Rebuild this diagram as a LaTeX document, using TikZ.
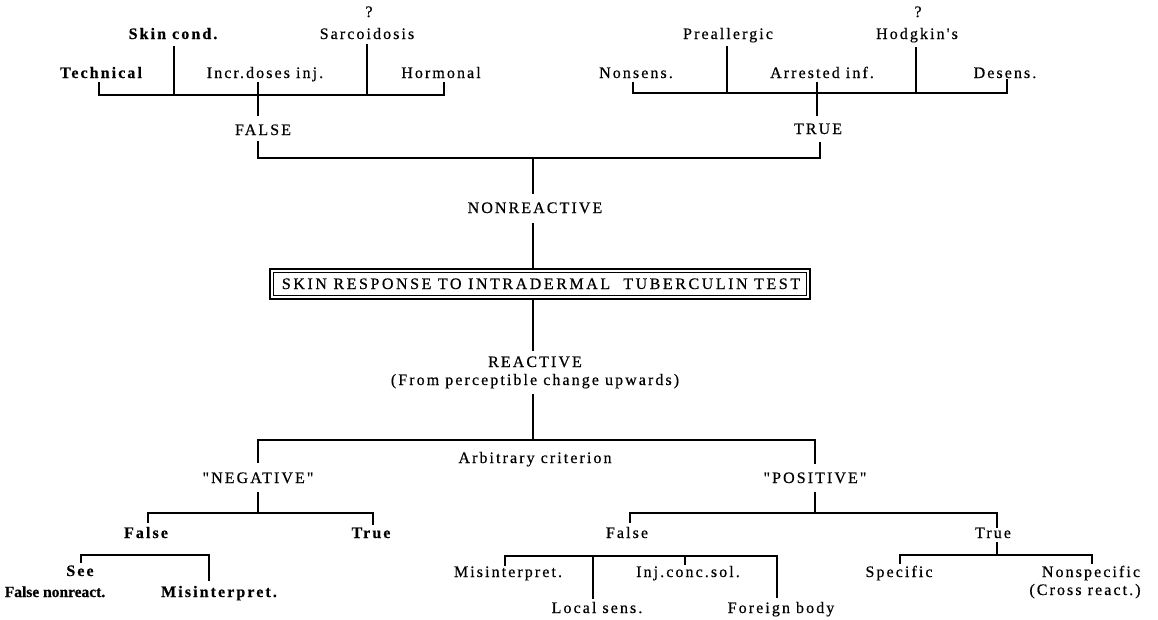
\documentclass[tikz,border=0pt]{standalone}
\usepackage{fontspec}
\newfontfamily\rf{Liberation Serif}[LetterSpace=13,FakeBold=0.5]
\begin{document}
\begin{tikzpicture}[x=1pt,y=-1pt,
  lbl/.style={anchor=base,inner sep=0pt,font=\rf\fontsize{16}{19}\selectfont},
  blbl/.style={lbl,font=\rf\fontsize{16}{19}\selectfont\bfseries},
  ln/.style={line width=1.3pt,line cap=rect}]
\fill[white] (0,0) rectangle (1158,619);
\useasboundingbox (0,0) rectangle (1158,619);
% ---------- top left (FALSE) ----------
\node[lbl]  (q1)   at (369,17) {?};
\node[blbl] (skin) at (173,39) {Skin cond.};
\node[lbl]  (sarc) at (367,39) {Sarcoidosis};
\node[blbl] (tech) at (101,78) {Technical};
\node[lbl]  (incr) at (265,78) {Incr.doses inj.};
\node[lbl]  (horm) at (441,78) {Hormonal};
\node[lbl]  (fals) at (263,135) {FALSE};
% ---------- top right (TRUE) ----------
\node[lbl]  (q2)   at (918,17) {?};
\node[lbl]  (prea) at (728,39) {Preallergic};
\node[lbl]  (hodg) at (917,39) {Hodgkin's};
\node[lbl]  (nons) at (636,78) {Nonsens.};
\node[lbl]  (arre) at (822,78) {Arrested inf.};
\node[lbl]  (dese) at (1005,78) {Desens.};
\node[lbl]  (tru)  at (818,134) {TRUE};
% ---------- centre ----------
\node[lbl]  (nonr) at (535,213) {NONREACTIVE};
\node[lbl,font=\rf\fontsize{16}{19}\selectfont\addfontfeature{LetterSpace=16}] (skr)  at (541,289) {SKIN RESPONSE TO INTRADERMAL\ \ TUBERCULIN TEST};
\node[lbl]  (reac) at (535,367) {REACTIVE};
\node[lbl]  (from) at (535,385) {(From perceptible change upwards)};
\node[lbl]  (arb)  at (535,463) {Arbitrary criterion};
\node[lbl]  (neg)  at (258,483) {"NEGATIVE"};
\node[lbl]  (pos)  at (815,483) {"POSITIVE"};
% ---------- negative ----------
\node[blbl] (nF)   at (146,538) {False};
\node[blbl] (nT)   at (371,538) {True};
\node[blbl] (see)  at (80,576) {See};
\node[blbl,font=\rf\fontsize{15.5}{18}\selectfont\bfseries\addfontfeature{LetterSpace=0}] (fnr)  at (55,597) {False nonreact.};
\node[blbl] (nmis) at (219,597) {Misinterpret.};
% ---------- positive ----------
\node[lbl]  (pF)   at (627,538) {False};
\node[lbl]  (pT)   at (993,538) {True};
\node[lbl]  (pmis) at (508,577) {Misinterpret.};
\node[lbl]  (inj)  at (688,577) {Inj.conc.sol.};
\node[lbl]  (loc)  at (597,613) {Local sens.};
\node[lbl]  (forb) at (781,613) {Foreign body};
\node[lbl]  (spec) at (899,577) {Specific};
\node[lbl]  (nsp)  at (1091,577) {Nonspecific};
\node[lbl]  (cros) at (1085,595) {(Cross react.)};
% ---------- box ----------
\draw[line width=2pt] (270,269) rectangle (810,299);
\draw[line width=0.8pt] (273.5,272.5) rectangle (806.5,295.5);
% ---------- junction coordinates ----------
\coordinate (jFL) at (99,95);   \coordinate (jFR) at (444,95);
\coordinate (jTL) at (633,93);  \coordinate (jTR) at (1007,93);
\coordinate (jNL) at (258,158); \coordinate (jNR) at (820,158);
\coordinate (jRL) at (258,440); \coordinate (jRR) at (815,440);
% ---------- connectors: top left ----------
\draw[ln] (99,83) -- (jFL) -- (jFR) -- (444,83);
\draw[ln] (174,47) -- (174,95);
\draw[ln] (367,45) -- (367,95);
\draw[ln] (258,83) -- (258,115);
% ---------- connectors: top right ----------
\draw[ln] (633,83) -- (jTL) -- (jTR) -- (1007,80);
\draw[ln] (727,47) -- (727,93);
\draw[ln] (916,48) -- (916,93);
\draw[ln] (817,83) -- (817,115);
% ---------- FALSE / TRUE to NONREACTIVE ----------
\draw[ln] (258,142) -- (jNL) -- (jNR) -- (820,143);
\draw[ln] (533,158) -- (533,193);
\draw[ln] (533,224) -- (533,269);
\draw[ln] (533,299) -- (533,350);
\draw[ln] (533,395) -- (533,440);
% ---------- reactive split ----------
\draw[ln] (258,462) -- (jRL) -- (jRR) -- (815,463);
% negative
\draw[ln] (258,493) -- (258,513);
\draw[ln] (148,522) -- (148,513) -- (373,513) -- (373,524);
\draw[ln] (81,562) -- (81,555) -- (209,555) -- (209,580);
% positive
\draw[ln] (815,493) -- (815,513);
\draw[ln] (630,522) -- (630,513) -- (997,513) -- (997,527);
\draw[ln] (997,543) -- (997,555);
\draw[ln] (900,563) -- (900,555) -- (1092,555) -- (1092,563);
\draw[ln] (505,565) -- (505,556) -- (777,556) -- (777,597);
\draw[ln] (593,556) -- (593,598);
\draw[ln] (685,556) -- (685,564);
\end{tikzpicture}
\end{document}
